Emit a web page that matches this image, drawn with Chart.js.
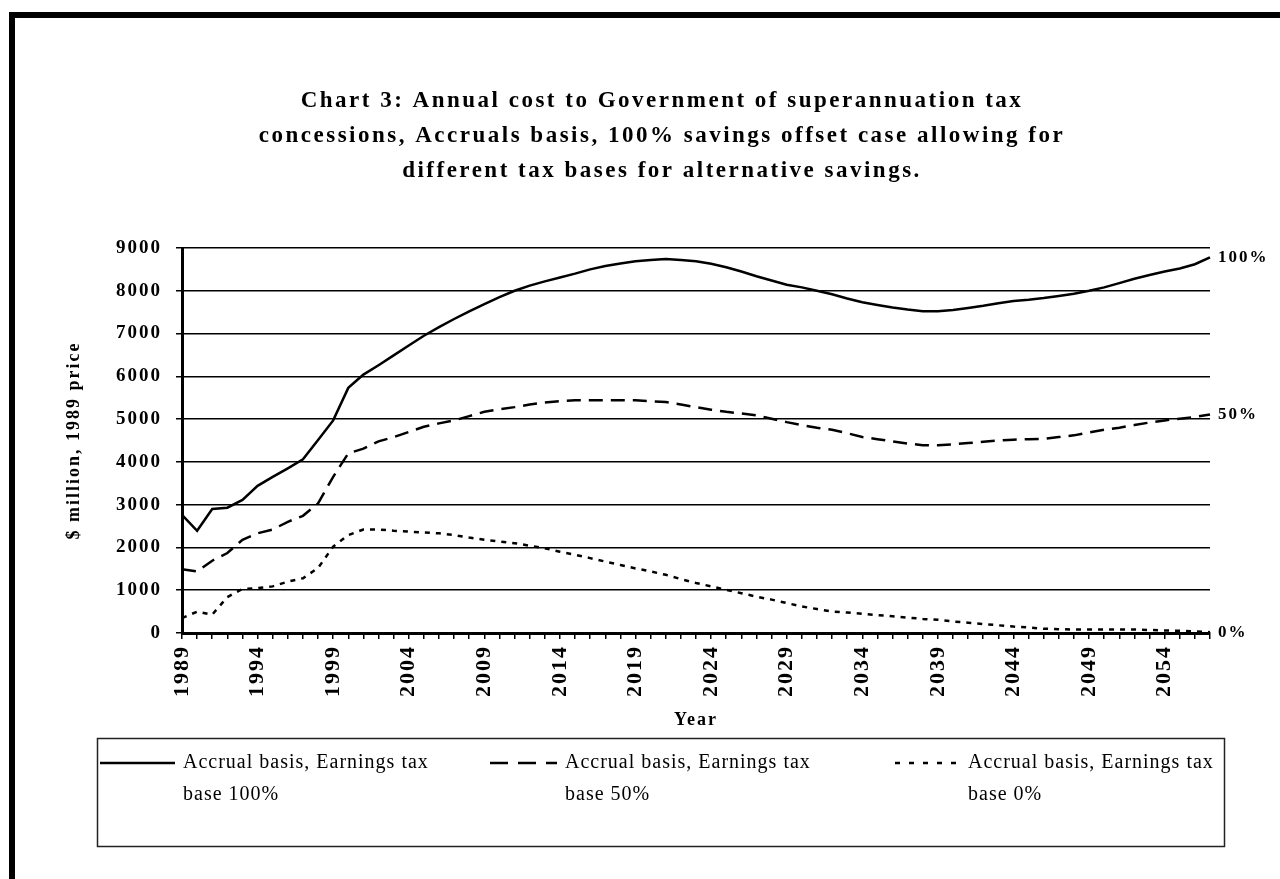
<!DOCTYPE html>
<html>
<head>
<meta charset="utf-8">
<script src="https://cdn.jsdelivr.net/npm/chart.js@4.4.1/dist/chart.umd.min.js"></script>
<style>
  html, body { margin: 0; padding: 0; background: #fff; }
  #frame { position: absolute; left: 9px; top: 12px; width: 1300px; height: 900px; border-left: 6px solid #000; border-top: 6px solid #000; }
  canvas { position: absolute; left: 0; top: 0; }
</style>
</head>
<body>
<div id="frame"></div>
<canvas id="chart" width="1280" height="879"></canvas>
<script>
const years = [
  '1989', '1990', '1991', '1992', '1993', '1994', '1995', '1996', '1997', '1998',
  '1999', '2000', '2001', '2002', '2003', '2004', '2005', '2006', '2007', '2008',
  '2009', '2010', '2011', '2012', '2013', '2014', '2015', '2016', '2017', '2018',
  '2019', '2020', '2021', '2022', '2023', '2024', '2025', '2026', '2027', '2028',
  '2029', '2030', '2031', '2032', '2033', '2034', '2035', '2036', '2037', '2038',
  '2039', '2040', '2041', '2042', '2043', '2044', '2045', '2046', '2047', '2048',
  '2049', '2050', '2051', '2052', '2053', '2054', '2055', '2056', '2057',
]

// Earnings tax base 100%
const base100 = [
  2760, 2390, 2900, 2930, 3110, 3440, 3650, 3850, 4060, 4510,
  4970, 5730, 6040, 6260, 6490, 6720, 6950, 7150, 7340, 7520,
  7690, 7850, 8000, 8120, 8220, 8310, 8400, 8500, 8580, 8640,
  8690, 8720, 8740, 8720, 8690, 8630, 8550, 8450, 8340, 8240,
  8140, 8080, 8000, 7920, 7820, 7730, 7670, 7610, 7560, 7520,
  7520, 7550, 7600, 7650, 7710, 7760, 7790, 7830, 7880, 7930,
  8000, 8080, 8180, 8280, 8370, 8450, 8520, 8620, 8780,
]

// Earnings tax base 50%
const base50 = [
  1490, 1440, 1690, 1870, 2180, 2330, 2420, 2600, 2740, 3030,
  3650, 4200, 4310, 4480, 4580, 4700, 4820, 4900, 4970, 5070,
  5170, 5230, 5280, 5340, 5390, 5420, 5440, 5440, 5440, 5440,
  5440, 5420, 5400, 5340, 5280, 5220, 5170, 5130, 5090, 5010,
  4930, 4860, 4800, 4750, 4670, 4580, 4530, 4480, 4430, 4390,
  4390, 4410, 4440, 4470, 4500, 4520, 4530, 4540, 4580, 4620,
  4690, 4750, 4800, 4860, 4920, 4970, 5010, 5050, 5110,
]

// Earnings tax base 0%
const base0 = [
  350, 500, 430, 840, 1030, 1050, 1090, 1200, 1280, 1520,
  2020, 2290, 2420, 2420, 2390, 2370, 2350, 2330, 2290, 2230,
  2180, 2140, 2100, 2040, 1980, 1900, 1830, 1750, 1670, 1590,
  1510, 1440, 1360, 1260, 1170, 1090, 1010, 930, 850, 780,
  700, 620, 560, 500, 480, 450, 420, 390, 360, 330,
  310, 270, 240, 210, 180, 150, 130, 100, 90, 80,
  80, 80, 80, 80, 70, 60, 50, 40, 20,
]

const titleLines = [
  'Chart 3: Annual cost to Government of superannuation tax',
  'concessions, Accruals basis, 100% savings offset case allowing for',
  'different tax bases for alternative savings.',
]
const endLabels = ['100%', '50%', '0%']
const legendLines = [
  ['Accrual basis, Earnings tax', 'base 100%'],
  ['Accrual basis, Earnings tax', 'base 50%'],
  ['Accrual basis, Earnings tax', 'base 0%'],
]

const serif = '"Liberation Serif", "Times New Roman", serif'

// title, end labels and the boxed legend are drawn by hand
const decorations = {
  id: 'decorations',
  beforeLayout(chart) { chart.ctx.letterSpacing = '2px' },
  beforeDraw(chart) { chart.ctx.letterSpacing = '2px' },
  afterDraw(chart) {
    const { ctx, chartArea } = chart
    const y = chart.scales.y
    ctx.save()
    ctx.fillStyle = '#000'
    ctx.strokeStyle = '#000'

    // Title
    ctx.font = `bold 23px ${serif}`
    ctx.letterSpacing = '2.5px'
    ctx.textAlign = 'center'
    ctx.textBaseline = 'middle'
    titleLines.forEach((line, i) => ctx.fillText(line, 662, 101 + i * 35))

    // Labels at the right end of each line
    ctx.font = `bold 17px ${serif}`
    ctx.letterSpacing = '2px'
    ctx.textAlign = 'left'
    chart.data.datasets.forEach((ds, i) => {
      const last = ds.data[ds.data.length - 1]
      ctx.fillText(endLabels[i], chartArea.right + 8, y.getPixelForValue(last))
    })

    // Legend
    ctx.lineWidth = 1.5
    ctx.strokeStyle = '#222'
    ctx.strokeRect(97.5, 738.5, 1127, 108)
    const itemX = [100, 490, 895]
    const sampleW = [75, 67, 65]
    ctx.font = `20px ${serif}`
    ctx.letterSpacing = '1px'
    chart.data.datasets.forEach((ds, i) => {
      ctx.beginPath()
      ctx.lineWidth = 2.5
      ctx.strokeStyle = '#000'
      ctx.setLineDash(ds.legendDash)
      ctx.moveTo(itemX[i], 763)
      ctx.lineTo(itemX[i] + sampleW[i], 763)
      ctx.stroke()
      ctx.setLineDash([])
      const tx = itemX[i] + sampleW[i] + 8
      ctx.fillText(legendLines[i][0], tx, 763)
      ctx.fillText(legendLines[i][1], tx, 795)
    })
    ctx.restore()
  },
}

const ctx = document.getElementById('chart').getContext('2d')
new Chart(ctx, {
  type: 'line',
  data: {
    labels: years,
    datasets: [
      {
        label: legendLines[0].join(' '),
        data: base100,
        borderColor: '#000',
        borderWidth: 2.5,
        legendDash: [],
      },
      {
        label: legendLines[1].join(' '),
        data: base50,
        borderColor: '#000',
        borderWidth: 2.5,
        borderDash: [14, 8],
        legendDash: [18, 10],
      },
      {
        label: legendLines[2].join(' '),
        data: base0,
        borderColor: '#000',
        borderWidth: 2.5,
        borderDash: [5, 6],
        legendDash: [5, 9],
      },
    ],
  },
  options: {
    responsive: false,
    animation: false,
    events: [],
    elements: { point: { radius: 0 }, line: { tension: 0 } },
    layout: { padding: { left: 0, right: 70, top: 248, bottom: 146 } },
    plugins: {
      legend: { display: false },
      title: { display: false },
      tooltip: { enabled: false },
    },
    scales: {
      x: {
        offset: false,
        afterFit: (scale) => { scale.height = 100 },
        grid: { drawOnChartArea: false, drawTicks: true, tickLength: 6, color: '#000', lineWidth: 1.5 },
        border: { display: true, color: '#000', width: 3 },
        ticks: {
          autoSkip: false,
          maxRotation: 90,
          minRotation: 90,
          padding: 6,
          color: '#000',
          font: { family: serif, size: 22, weight: 'bold' },
          callback: (value, index) => (index % 5 === 0 ? years[index] : ''),
        },
        title: {
          display: true,
          text: 'Year',
          color: '#000',
          font: { family: serif, size: 18, weight: 'bold' },
          padding: { top: 0, bottom: 2 },
        },
      },
      y: {
        min: 0,
        max: 9000,
        afterFit: (scale) => { scale.width = 182 },
        grid: { color: '#000', lineWidth: 1.5, tickLength: 6 },
        border: { display: true, color: '#000', width: 3 },
        ticks: {
          stepSize: 1000,
          padding: 14,
          color: '#000',
          font: { family: serif, size: 19, weight: 'bold' },
          callback: (value) => String(value),
        },
        title: {
          display: true,
          text: '$ million, 1989 price',
          color: '#000',
          font: { family: serif, size: 18, weight: 'bold' },
          padding: { top: 64, bottom: 0 },
        },
      },
    },
  },
  plugins: [decorations],
})
</script>
</body>
</html>
